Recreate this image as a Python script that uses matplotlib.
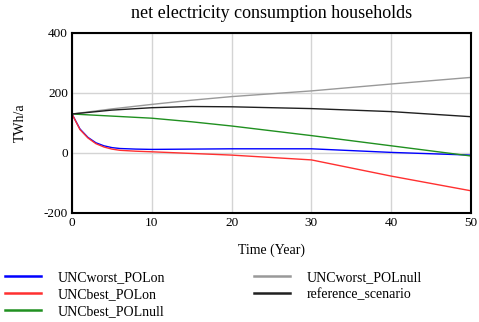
import matplotlib.pyplot as plt

plt.rcParams['font.family'] = ['Liberation Serif', 'DejaVu Serif']
plt.rcParams['axes.unicode_minus'] = False

# time points (years)
t_early = [0, 1, 2, 3, 4, 5, 6, 8, 10, 20, 30, 40, 50]
t_coarse = [0, 5, 10, 15, 20, 30, 40, 50]

unc_worst_pol_on = [130, 80, 52, 34, 24, 18, 15, 13, 12, 14, 14, 2, -7]
unc_best_pol_on = [130, 78, 50, 31, 20, 13, 9, 6, 4, -7, -23, -77, -126]
unc_best_pol_null = [130, 123, 116, 104, 90, 58, 24, -10]
unc_worst_pol_null = [130, 147, 162, 176, 188, 207, 230, 252]
reference_scenario = [130, 143, 151, 155, 154, 148, 138, 121]

fig = plt.figure(figsize=(4.79, 3.22), dpi=100)
ax = fig.add_axes([72/479, 1 - 213/322, 399/479, 180/322])

l1, = ax.plot(t_early, unc_worst_pol_on, color='#0000ff', lw=1)
l2, = ax.plot(t_early, unc_best_pol_on, color='#ff3030', lw=1)
l3, = ax.plot(t_coarse, unc_best_pol_null, color='#209020', lw=1)
l4, = ax.plot(t_coarse, unc_worst_pol_null, color='#999999', lw=1)
l5, = ax.plot(t_coarse, reference_scenario, color='#202020', lw=1)

ax.set_xlim(0, 50)
ax.set_ylim(-200, 400)
ax.set_xticks([0, 10, 20, 30, 40, 50])
ax.set_yticks([-200, 0, 200, 400])
ax.grid(True, color='#d4d4d4', lw=1)
ax.set_axisbelow(True)
ax.tick_params(length=0, labelsize=9.5, pad=3)
for s in ax.spines.values():
    s.set_linewidth(1.5)

ax.set_title('net electricity consumption households', fontsize=13, pad=11)
ax.set_xlabel('Time (Year)', fontsize=10, labelpad=10)
ax.set_ylabel('TWh/a', fontsize=10, labelpad=12)

leg = fig.legend([l1, l2, l3, l4, l5],
                 ['UNCworst_POLon', 'UNCbest_POLon', 'UNCbest_POLnull',
                  'UNCworst_POLnull', 'reference_scenario'],
                 ncol=2, loc='upper left', bbox_to_anchor=(5/479, 1 - 271/322),
                 frameon=False, fontsize=10, handlelength=2.6, handletextpad=1.2,
                 columnspacing=6.4, labelspacing=0.3, borderaxespad=0, borderpad=0)
for ln in leg.get_lines():
    ln.set_linewidth(1.8)

fig.savefig('out.png', dpi=100)
